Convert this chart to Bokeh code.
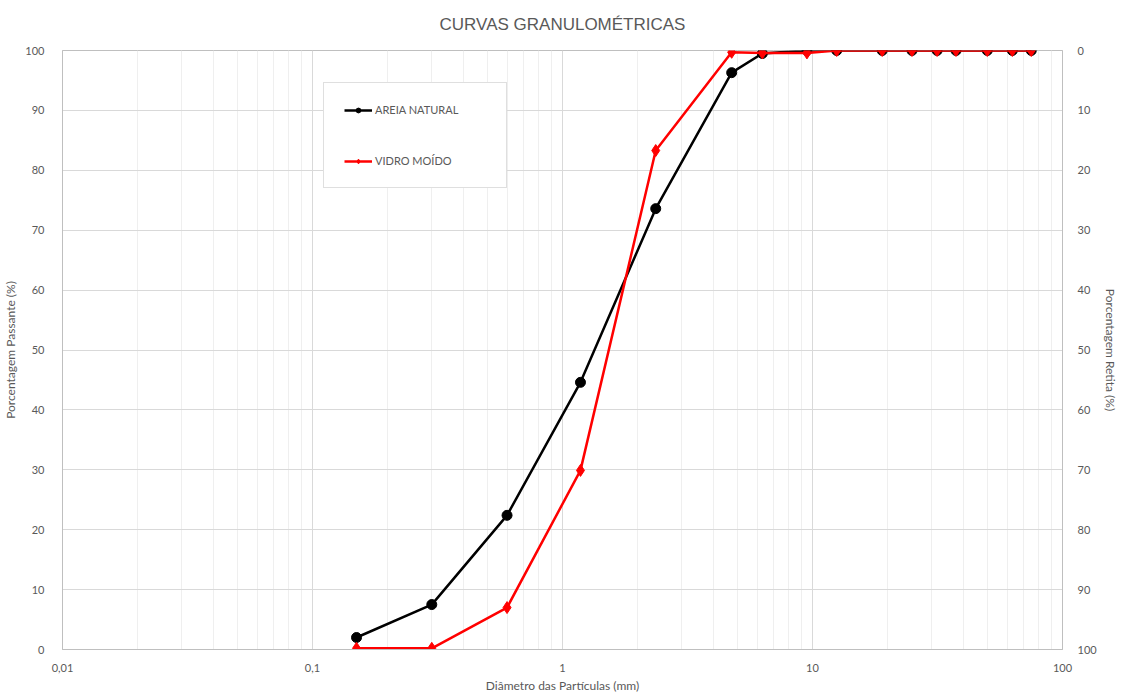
from bokeh.plotting import figure
from bokeh.models import (Range1d, LinearAxis, FixedTicker, Legend, LegendItem,
                          Title)
from bokeh.embed import file_html
from bokeh.resources import INLINE

# Sieve openings (mm) and percent passing for each material
sieves = [0.15, 0.3, 0.6, 1.18, 2.36, 4.75, 6.3, 9.5, 12.5, 19, 25, 31.5, 37.5, 50, 63, 75]
areia_natural = [2.0, 7.5, 22.4, 44.6, 73.6, 96.3, 99.5, 100, 100, 100, 100, 100, 100, 100, 100, 100]
vidro_moido = [0.2, 0.2, 7.0, 29.9, 83.3, 99.7, 99.6, 99.6, 100, 100, 100, 100, 100, 100, 100, 100]

x_ticks = [0.01, 0.1, 1, 10, 100]
x_tick_labels = ["0,01", "0,1", "1", "10", "100"]
y_ticks = [0, 10, 20, 30, 40, 50, 60, 70, 80, 90, 100]

GRAY_TXT = "#595959"
FONT = "Lato"

p = figure(width=1121, height=695, x_axis_type="log",
           x_range=Range1d(0.01, 100), y_range=Range1d(0, 100),
           output_backend="svg", toolbar_location=None,
           min_border_left=62, min_border_right=59,
           min_border_top=50, min_border_bottom=46)

p.title = Title(text="CURVAS GRANULOMÉTRICAS", align="center",
                vertical_align="top",
                text_font="Liberation Sans", text_font_size="17px",
                text_font_style="normal", text_color=GRAY_TXT, standoff=29)

p.outline_line_color = "#bfbfbf"
p.outline_line_width = 1

# minor log grid at 2..9 of each decade
minor = [m * 10.0 ** d for d in range(-2, 2) for m in range(2, 10)]
p.xaxis.ticker = FixedTicker(ticks=x_ticks, minor_ticks=minor)
p.xaxis.major_label_overrides = {t: l for t, l in zip(x_ticks, x_tick_labels)}
p.yaxis.ticker = FixedTicker(ticks=y_ticks)

p.xgrid.grid_line_color = "#d9d9d9"
p.xgrid.minor_grid_line_color = "#efefef"
p.ygrid.grid_line_color = "#d9d9d9"

for ax in (p.xaxis[0], p.yaxis[0]):
    ax.axis_line_color = "#bfbfbf"
    ax.major_tick_line_color = None
    ax.minor_tick_line_color = None
    ax.major_label_text_font = FONT
    ax.major_label_text_font_size = "11px"
    ax.major_label_text_color = GRAY_TXT
    ax.axis_label_text_font = FONT
    ax.axis_label_text_font_size = "12px"
    ax.axis_label_text_font_style = "normal"
    ax.axis_label_text_color = GRAY_TXT

p.xaxis.axis_label = "Diâmetro das Partículas (mm)"
p.xaxis.major_label_standoff = 8
p.xaxis.axis_label_standoff = 3
p.yaxis.axis_label = "Porcentagem Passante (%)"
p.yaxis.major_label_standoff = 12
p.yaxis.axis_label_standoff = 4

# reversed scale on the right: percent retained
p.extra_y_ranges = {"retido": Range1d(100, 0)}
right = LinearAxis(y_range_name="retido", ticker=FixedTicker(ticks=y_ticks),
                   axis_label="Porcentagem Retita (%)")
right.axis_line_color = "#bfbfbf"
right.major_tick_line_color = None
right.minor_tick_line_color = None
right.major_label_text_font = FONT
right.major_label_text_font_size = "11px"
right.major_label_text_color = GRAY_TXT
right.major_label_standoff = 9
right.axis_label_text_font = FONT
right.axis_label_text_font_size = "12px"
right.axis_label_text_font_style = "normal"
right.axis_label_text_color = GRAY_TXT
right.axis_label_standoff = 3
p.add_layout(right, "right")

l1 = p.line(sieves, areia_natural, line_color="black", line_width=2.5)
m1 = p.scatter(sieves, areia_natural, marker="circle", size=10,
               fill_color="black", line_color="black")
l2 = p.line(sieves, vidro_moido, line_color="#ff0000", line_width=2.5)
m2 = p.scatter(sieves, vidro_moido, marker="diamond", size=12,
               fill_color="#ff0000", line_color="#ff0000")

legend = Legend(items=[LegendItem(label="AREIA NATURAL", renderers=[l1, m1]),
                       LegendItem(label="VIDRO MOÍDO", renderers=[l2, m2])],
                location=(261, 461), padding=20, spacing=38, margin=0,
                glyph_width=28, glyph_height=12, label_height=12,
                label_width=111, label_standoff=3,
                label_text_font=FONT, label_text_font_size="11px",
                label_text_color=GRAY_TXT,
                border_line_color="#bfbfbf", border_line_width=1,
                background_fill_color="white", background_fill_alpha=1)
p.add_layout(legend, "center")

open("out.html", "w").write(file_html(p, INLINE))
